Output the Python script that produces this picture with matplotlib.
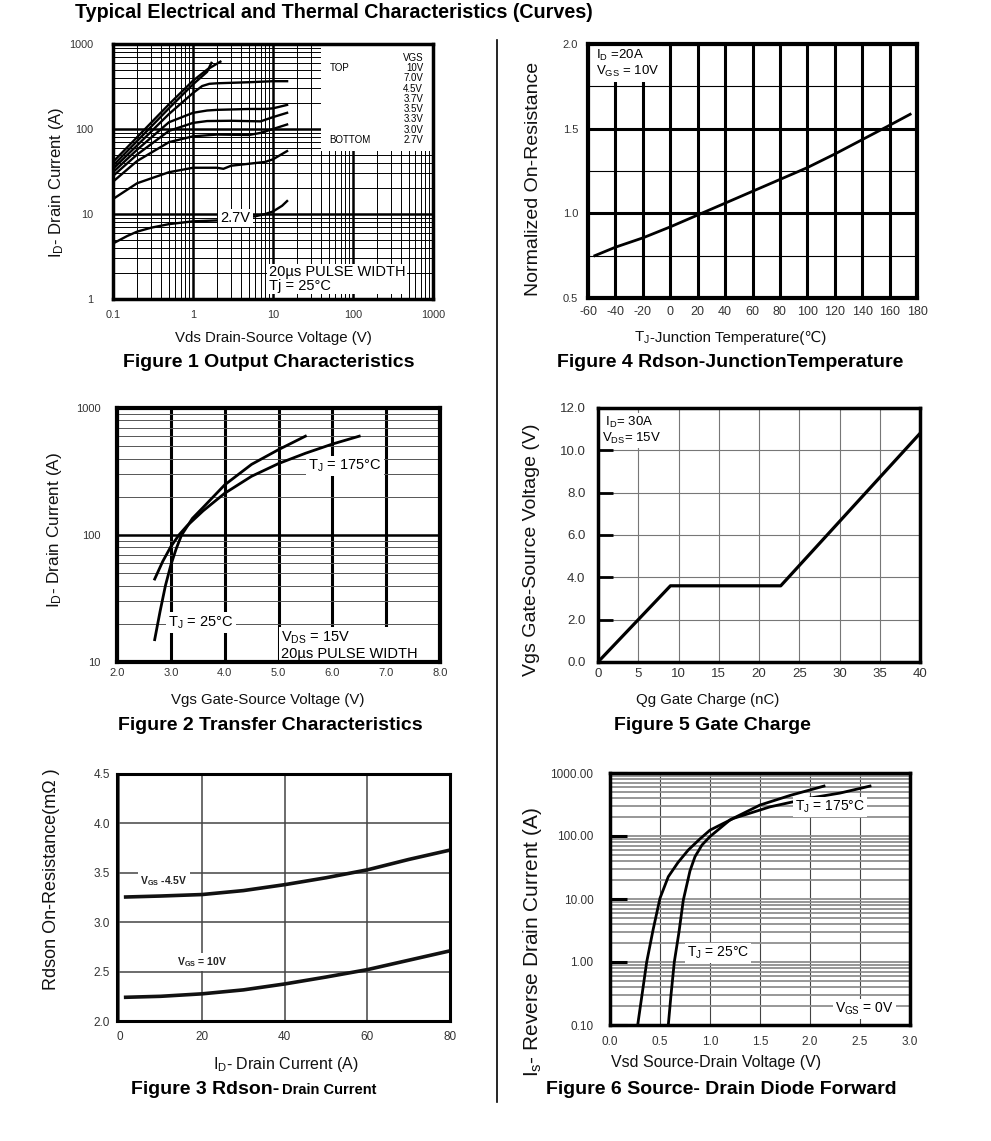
import numpy as np
import matplotlib
matplotlib.use("Agg")
import matplotlib.pyplot as plt
from matplotlib.patches import Rectangle

plt.rcParams['font.family'] = ['Liberation Sans', 'DejaVu Sans', 'Noto Sans CJK SC']
plt.rcParams['mathtext.fontset'] = 'custom'
plt.rcParams['mathtext.rm'] = 'Liberation Sans'
plt.rcParams['mathtext.it'] = 'Liberation Sans'
plt.rcParams['mathtext.bf'] = 'Liberation Sans:bold'
plt.rcParams['axes.unicode_minus'] = False

# ---- Figure 1: output characteristics (Vds, Id) per VGS ----
vgs_labels = ['10V', '7.0V', '4.5V', '3.7V', '3.5V', '3.3V', '3.0V', '2.7V']
out_vds = [
    [0.1, 0.2, 0.5, 1.0, 1.5, 2.2],
    [0.1, 0.2, 0.5, 1.0, 1.5, 1.7],
    [0.1, 0.2, 0.5, 1.0, 1.3, 1.6, 2, 5, 10, 15],
    [0.1, 0.2, 0.5, 1.0, 1.5, 2, 5, 8, 10, 15],
    [0.1, 0.2, 0.5, 1.0, 1.5, 3, 7, 10, 15],
    [0.1, 0.2, 0.5, 1.0, 2, 5, 7, 10, 15],
    [0.1, 0.2, 0.5, 1.0, 2, 2.4, 3, 5, 8, 10, 15],
    [0.1, 0.15, 0.2, 0.3, 0.5, 1.0, 2, 4, 6, 8, 10, 13, 15],
]
out_id = [
    [41, 80, 195, 370, 500, 620],
    [37, 72, 175, 335, 470, 600],
    [34, 64, 150, 265, 320, 340, 345, 355, 365, 365],
    [31, 57, 120, 155, 165, 168, 172, 172, 175, 192],
    [28, 50, 95, 118, 124, 125, 123, 138, 155],
    [24, 42, 70, 82, 86, 85, 90, 100, 113],
    [15, 23, 31, 35, 35, 34, 37, 39, 41, 44, 55],
    [4.5, 5.5, 6.2, 6.9, 7.6, 8.2, 8.4, 9.0, 9.4, 10.0, 10.7, 12.5, 14.2],
]

# ---- Figure 4: normalized Rdson vs Tj ----
tj = [-55, -40, -20, 0, 20, 40, 60, 80, 100, 120, 140, 160, 175]
rdson_norm = [0.75, 0.80, 0.855, 0.92, 0.99, 1.06, 1.13, 1.20, 1.27, 1.35, 1.435, 1.52, 1.585]

# ---- Figure 2: transfer characteristics ----
vgs_25 = [2.7, 2.8, 2.9, 3.0, 3.1, 3.2, 3.4, 3.6, 4.0, 4.5, 5.0, 5.5]
id_25 = [15, 25, 40, 58, 78, 100, 135, 165, 248, 360, 470, 600]
vgs_175 = [2.7, 2.85, 3.0, 3.15, 3.3, 3.6, 4.0, 4.5, 5.0, 5.5, 6.0, 6.5]
id_175 = [45, 62, 81, 100, 118, 155, 213, 290, 365, 440, 520, 600]

# ---- Figure 5: gate charge ----
qg = [0, 9, 22.7, 40]
vgs_qg = [0, 3.6, 3.6, 10.8]

# ---- Figure 3: Rdson vs drain current ----
id_r = [1.5, 10, 20, 30, 40, 50, 60, 70, 80]
r_45 = [3.255, 3.265, 3.28, 3.32, 3.38, 3.45, 3.53, 3.635, 3.73]
r_10 = [2.24, 2.25, 2.275, 2.315, 2.375, 2.445, 2.52, 2.615, 2.71]

# ---- Figure 6: body diode forward ----
vsd_25 = [0.583, 0.61, 0.643, 0.69, 0.733, 0.8, 0.85, 0.92, 1.0, 1.2, 1.5, 1.8, 2.14]
is_25 = [0.1, 0.3, 1.0, 3.0, 9.6, 28, 47, 72, 98, 180, 310, 440, 620]
vsd_175 = [0.277, 0.32, 0.367, 0.43, 0.5, 0.583, 0.68, 0.783, 0.9, 1.0, 1.233, 1.6, 2.0, 2.3, 2.6]
is_175 = [0.1, 0.3, 1.0, 3.2, 10.3, 22.6, 38, 60, 90, 124, 190, 290, 400, 480, 620]

W, H = 991, 1141
fig = plt.figure(figsize=(W / 100, H / 100), dpi=100)


def px_axes(l, t, r, b):
    return fig.add_axes([l / W, 1 - b / H, (r - l) / W, (b - t) / H])


def ftext(x, y, s, **kw):
    return fig.text(x / W, 1 - y / H, s, **kw)


def frame(ax, lw):
    for sp in ax.spines.values():
        sp.set_linewidth(lw)
        sp.set_color('black')
        sp.set_zorder(5)


def ticks(ax, size):
    ax.tick_params(which='both', labelsize=size, labelcolor='#333333', length=0)


white = dict(facecolor='white', edgecolor='none', pad=1.5)
DEG = '\u00b0C'

# ================= Figure 1 =================
ax1 = px_axes(113, 44, 433, 299)
ax1.set_xscale('log')
ax1.set_yscale('log')
ax1.set_xlim(0.1, 1000)
ax1.set_ylim(1, 1000)
ax1.grid(which='major', color='black', lw=1.8)
ax1.grid(which='minor', color='black', lw=0.7)
ax1.set_xticks([0.1, 1, 10, 100, 1000], ['0.1', '1', '10', '100', '1000'])
ax1.set_yticks([1, 10, 100, 1000], ['1', '10', '100', '1000'])
ticks(ax1, 7.8)
ax1.tick_params(axis='y', pad=14)
ax1.tick_params(axis='x', pad=8)
ax1.add_patch(Rectangle((0.65, 0.58), 0.35, 0.42, transform=ax1.transAxes,
                        facecolor='white', edgecolor='none', zorder=2))
for xs, ys in zip(out_vds, out_id):
    ax1.plot(xs, ys, color='black', lw=1.7, zorder=3)
ax1.text(3.4, 9.0, '2.7V', fontsize=10.5, ha='center', va='center', bbox=white, zorder=4)
ax1.text(0.969, 0.944, 'VGS', transform=ax1.transAxes, fontsize=7, ha='right', va='center', zorder=4)
for i, lab in enumerate(vgs_labels):
    ax1.text(0.969, 0.905 - 0.0402 * i, lab, transform=ax1.transAxes, fontsize=7,
             ha='right', va='center', zorder=4)
ax1.text(0.678, 0.905, 'TOP', transform=ax1.transAxes, fontsize=7, ha='left', va='center', zorder=4)
ax1.text(0.675, 0.624, 'BOTTOM', transform=ax1.transAxes, fontsize=7, ha='left', va='center', zorder=4)
ax1.text(8.8, 1.72, '20\u00b5s PULSE WIDTH\nTj = 25' + DEG, fontsize=10.5, ha='left', va='center',
         linespacing=1.0, bbox=dict(facecolor='white', edgecolor='none', pad=1), zorder=4)
frame(ax1, 2.5)

# ================= Figure 4 =================
ax4 = px_axes(588, 44, 917, 298)
ax4.set_xlim(-60, 180)
ax4.set_ylim(0.5, 2.0)
ax4.set_xticks(np.arange(-60, 181, 20))
ax4.set_yticks([0.5, 1.0, 1.5, 2.0], ['0.5', '1.0', '1.5', '2.0'])
ax4.set_yticks([0.75, 1.25, 1.75], minor=True)
ax4.grid(axis='x', which='major', color='black', lw=2.2)
ax4.grid(axis='y', which='major', color='black', lw=2.2)
ax4.grid(axis='y', which='minor', color='black', lw=0.8)
ticks(ax4, 8)
ax4.tick_params(axis='x', labelsize=9, pad=6)
ax4.tick_params(axis='y', pad=7)
ax4.plot(tj, rdson_norm, color='black', lw=2.0, zorder=3)
ax4.text(-54, 1.885, r'$\mathrm{I_D}$ =20A' + '\n' + r'$\mathrm{V_{GS}}$ = 10V', fontsize=9.5,
         ha='left', va='center', linespacing=1.15, bbox=white, zorder=4)
frame(ax4, 3)

# ================= Figure 2 =================
ax2 = px_axes(117, 408, 440, 662)
ax2.set_yscale('log')
ax2.set_xlim(2, 8)
ax2.set_ylim(10, 1000)
ax2.set_xticks(np.arange(2, 8.1, 1), ['2.0', '3.0', '4.0', '5.0', '6.0', '7.0', '8.0'])
ax2.set_yticks([10, 100, 1000], ['10', '100', '1000'])
ax2.grid(axis='x', which='major', color='black', lw=2.2)
ax2.grid(axis='y', which='major', color='black', lw=1.8)
ax2.grid(axis='y', which='minor', color='#555555', lw=0.7)
ticks(ax2, 8)
ax2.tick_params(axis='y', pad=12)
ax2.tick_params(axis='x', pad=4)
ax2.plot(vgs_25, id_25, color='black', lw=2.0, zorder=3)
ax2.plot(vgs_175, id_175, color='black', lw=2.0, zorder=3)
ax2.text(5.55, 350, r'$\mathrm{T_J}$ = 175' + DEG, fontsize=10.5, ha='left', va='center', bbox=white, zorder=4)
ax2.text(2.95, 20.5, r'$\mathrm{T_J}$ = 25' + DEG, fontsize=10.5, ha='left', va='center', bbox=white, zorder=4)
ax2.text(5.05, 13.5, r'$\mathrm{V_{DS}}$ = 15V' + '\n20\u00b5s PULSE WIDTH', fontsize=10.5, ha='left',
         va='center', linespacing=1.05, bbox=white, zorder=4)
frame(ax2, 3)

# ================= Figure 5 =================
ax5 = px_axes(598, 408, 920, 662)
ax5.set_xlim(0, 40)
ax5.set_ylim(0, 12)
ax5.set_xticks(np.arange(0, 41, 5))
ax5.set_yticks(np.arange(0, 12.1, 2), ['0.0', '2.0', '4.0', '6.0', '8.0', '10.0', '12.0'])
ax5.grid(color='#777777', lw=0.8)
ticks(ax5, 9.5)
ax5.tick_params(axis='y', direction='in', length=11, width=2, pad=9, color='black')
ax5.tick_params(axis='x', pad=4)
ax5.plot(qg, vgs_qg, color='black', lw=2.3, zorder=3)
ax5.text(0.5, 10.95, r'$\mathrm{\ I_D}$= 30A' + '\n' + r'$\mathrm{V_{DS}}$= 15V', fontsize=9.5,
         ha='left', va='center', linespacing=1.05, bbox=white, zorder=4)
frame(ax5, 2.5)

# ================= Figure 3 =================
ax3 = px_axes(117, 774, 450, 1021)
ax3.set_xlim(-0.6, 80)
ax3.set_ylim(2.0, 4.5)
ax3.set_xticks([0, 20, 40, 60, 80])
ax3.set_yticks(np.arange(2.0, 4.51, 0.5), ['2.0', '2.5', '3.0', '3.5', '4.0', '4.5'])
ax3.grid(color='#444444', lw=1.1)
ticks(ax3, 8.5)
ax3.tick_params(axis='y', pad=5)
ax3.tick_params(axis='x', pad=7)
ax3.plot(id_r, r_45, color='#111111', lw=2.6, zorder=3)
ax3.plot(id_r, r_10, color='#111111', lw=2.6, zorder=3)
ax3.text(5, 3.42, r'$\mathbf{V_{GS}}$ -4.5V', fontsize=7.5, fontweight='bold', ha='left', va='center',
         color='#222222', bbox=white, zorder=4)
ax3.text(14, 2.6, r'$\mathbf{V_{GS}}$ = 10V', fontsize=7.5, fontweight='bold', ha='left', va='center',
         color='#222222', bbox=white, zorder=4)
frame(ax3, 2.2)

# ================= Figure 6 =================
ax6 = px_axes(610, 773, 910, 1025)
ax6.set_yscale('log')
ax6.set_xlim(0, 3)
ax6.set_ylim(0.1, 1000)
ax6.set_xticks(np.arange(0, 3.01, 0.5), ['0.0', '0.5', '1.0', '1.5', '2.0', '2.5', '3.0'])
ax6.set_yticks([0.1, 1, 10, 100, 1000], ['0.10', '1.00', '10.00', '100.00', '1000.00'])
ax6.grid(axis='x', color='#444444', lw=0.8)
ax6.grid(axis='y', which='both', color='#8f8f8f', lw=1.3)
ticks(ax6, 8.5)
ax6.tick_params(axis='y', which='major', direction='in', length=12, width=2.2, pad=12, color='black')
ax6.tick_params(axis='x', pad=8)
ax6.plot(vsd_25, is_25, color='black', lw=2.0, zorder=3)
ax6.plot(vsd_175, is_175, color='black', lw=2.0, zorder=3)
ax6.text(1.85, 290, r'$\mathrm{T_J}$ = 175' + DEG, fontsize=10, ha='left', va='center', bbox=white, zorder=4)
ax6.text(0.77, 1.4, r'$\mathrm{T_J}$ = 25' + DEG, fontsize=10, ha='left', va='center', bbox=white, zorder=4)
ax6.text(2.25, 0.18, r'$\mathrm{V_{GS}}$ = 0V', fontsize=10, ha='left', va='center', bbox=white, zorder=4)
frame(ax6, 2.5)

# ---- axis labels ----
LAB = dict(ha='center', va='center', color='#111111')
ftext(273, 338, 'Vds Drain-Source Voltage (V)', fontsize=10.8, **LAB)
ftext(268, 700, 'Vgs Gate-Source Voltage (V)', fontsize=10.8, **LAB)
ftext(708, 700, 'Qg Gate Charge (nC)', fontsize=10.8, **LAB)
ftext(286, 1065, r'$\mathrm{I_D}$- Drain Current (A)', fontsize=11.5, **LAB)
ftext(716, 1063, 'Vsd Source-Drain Voltage (V)', fontsize=11.5, **LAB)

ftext(57, 182, r'$\mathrm{I_D}$- Drain Current (A)', rotation=90, fontsize=12, **LAB)
ftext(55, 530, r'$\mathrm{I_D}$- Drain Current (A)', rotation=90, fontsize=12.3, **LAB)
ftext(52, 879, 'Rdson On-Resistance(m\u03a9 )', rotation=90, fontsize=13, **LAB)
ftext(533, 179, 'Normalized On-Resistance', rotation=90, fontsize=14, **LAB)
ftext(532, 550, 'Vgs Gate-Source Voltage (V)', rotation=90, fontsize=14, **LAB)
ftext(532, 942, r'$\mathrm{I_s}$- Reverse Drain Current (A)', rotation=90, fontsize=15, **LAB)

# ---- captions ----
CAP = dict(fontsize=14, fontweight='bold', ha='center', va='center')
ftext(75, 12, 'Typical Electrical and Thermal Characteristics (Curves)', fontsize=14.2, fontweight='bold',
      ha='left', va='center')
ftext(269, 362, 'Figure 1 Output Characteristics', **CAP)
ftext(730, 362, 'Figure 4 Rdson-JunctionTemperature', **CAP)
ftext(270, 725, 'Figure 2 Transfer Characteristics', **CAP)
ftext(712, 725, 'Figure 5 Gate Charge', **CAP)
ftext(721, 1089, 'Figure 6 Source- Drain Diode Forward', **CAP)

# two-part texts (mixed fonts) are placed after measuring the first part
t3 = ftext(131, 1094, 'Figure 3 Rdson-', fontsize=14, fontweight='bold', ha='left', va='baseline')
t4a = ftext(0, 342, r'$\mathrm{T_J}$', fontsize=10.8, ha='left', va='baseline', color='#111111')
t4b = ftext(0, 342, '-Junction Temperature(\u2103)', fontsize=10.8, ha='left', va='baseline',
            color='#111111')
fig.canvas.draw()
bb = t3.get_window_extent()
fig.text(bb.x1 / W + 3 / W, 1 - 1094 / H, 'Drain Current', fontsize=10.5, fontweight='bold',
         ha='left', va='baseline')
wa = t4a.get_window_extent().width
wb = t4b.get_window_extent().width
x0 = 730 - (wa + wb) / 2
t4a.set_x(x0 / W)
t4b.set_x((x0 + wa) / W)

# separator
fig.add_artist(plt.Line2D([497 / W, 497 / W], [1 - 40 / H, 1 - 1102 / H], color='black', lw=1.2))

fig.savefig('out.png', dpi=100)
